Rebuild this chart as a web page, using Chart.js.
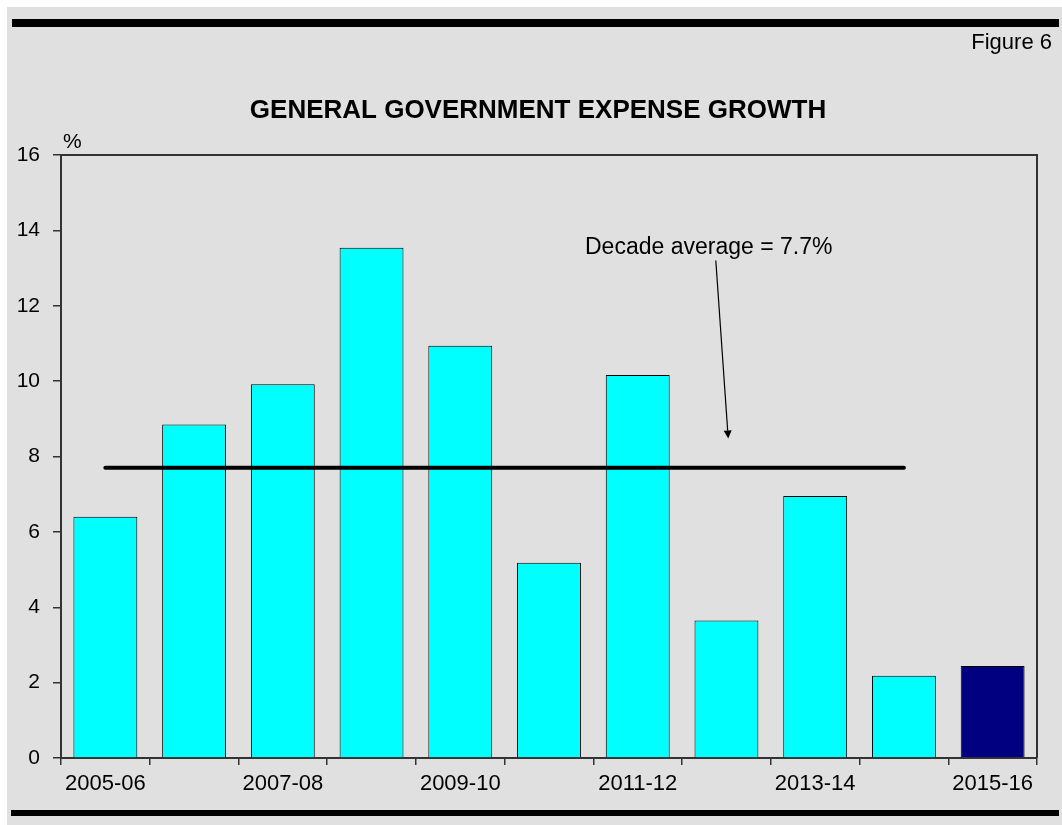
<!DOCTYPE html>
<html>
<head>
<meta charset="utf-8">
<title>General government expense growth</title>
<script src="https://cdn.jsdelivr.net/npm/chart.js@4/dist/chart.umd.min.js"></script>
<style>
  html, body { margin: 0; padding: 0; background: #fff; }
  canvas { display: block; }
</style>
</head>
<body>
<canvas id="expenseChart" width="1062" height="825"></canvas>
<script>
const FONT = "'Liberation Sans', Arial, Helvetica, sans-serif";

// financial years on the x axis
const years = ['2005-06', '2006-07', '2007-08', '2008-09', '2009-10', '2010-11',
  '2011-12', '2012-13', '2013-14', '2014-15', '2015-16'];
// only every second year gets a label
const labelledYears = ['2005-06', '2007-08', '2009-10', '2011-12', '2013-14', '2015-16'];

// expense growth, %
const growth = [6.4, 8.85, 9.92, 13.54, 10.94, 5.18, 10.16, 3.65, 6.95, 2.18, 2.44];

// decade average (2005-06 to 2014-15)
const decadeAverage = [7.7, 7.7, 7.7, 7.7, 7.7, 7.7, 7.7, 7.7, 7.7, 7.7, null];

const yMin = 0;
const yMax = 16;
const yStep = 2;

// callout text and arrow, in axis units (category index, %)
const note = {
  text: 'Decade average = 7.7%',
  at: [6.8, 13.37],
  from: [6.88, 13.2],
  to: [7.02, 8.48]
};

// last year is the budget estimate, shown in navy
const barColours = growth.map((v, i) => i === growth.length - 1 ? '#000080' : '#00ffff');

Chart.defaults.font.family = FONT;
Chart.defaults.color = '#000';

const frame = {
  id: 'frame',
  beforeDraw(chart) {
    const { ctx, width, height, chartArea } = chart;
    ctx.save();
    ctx.fillStyle = '#fff';
    ctx.fillRect(0, 0, width, height);
    ctx.fillStyle = '#e0e0e0';
    ctx.fillRect(7, 7, width - 7, height - 7);

    // heavy rules above and below
    ctx.fillStyle = '#000';
    ctx.fillRect(12, 19, 1047, 8);
    ctx.fillRect(11, 810, 1048, 6);

    ctx.textBaseline = 'alphabetic';
    ctx.font = '22px ' + FONT;
    ctx.textAlign = 'right';
    ctx.fillText('Figure 6', 1052, 49);

    ctx.font = 'bold 26px ' + FONT;
    ctx.textAlign = 'center';
    ctx.fillText('GENERAL GOVERNMENT EXPENSE GROWTH', 538, 118);

    ctx.font = '21px ' + FONT;
    ctx.textAlign = 'left';
    ctx.fillText('%', chartArea.left + 2, chartArea.top - 7);
    ctx.restore();
  },
  afterDraw(chart) {
    const { ctx, chartArea: a, scales } = chart;
    ctx.save();
    // top and right edges of the plot box
    ctx.strokeStyle = '#333';
    ctx.lineWidth = 2;
    ctx.beginPath();
    ctx.moveTo(a.left, a.top);
    ctx.lineTo(a.right, a.top);
    ctx.lineTo(a.right, a.bottom);
    ctx.stroke();

    // callout
    const px = p => [scales.x.getPixelForValue(p[0]), scales.y.getPixelForValue(p[1])];
    const [tx, ty] = px(note.at);
    ctx.fillStyle = '#000';
    ctx.font = '23px ' + FONT;
    ctx.textAlign = 'center';
    ctx.textBaseline = 'alphabetic';
    ctx.fillText(note.text, tx, ty);

    const [x0, y0] = px(note.from);
    const [x1, y1] = px(note.to);
    const ang = Math.atan2(y1 - y0, x1 - x0);
    const head = 8, half = 4;
    const bx = x1 - head * Math.cos(ang), by = y1 - head * Math.sin(ang);
    ctx.strokeStyle = '#000';
    ctx.lineWidth = 1.2;
    ctx.beginPath();
    ctx.moveTo(x0, y0);
    ctx.lineTo(bx, by);
    ctx.stroke();
    ctx.beginPath();
    ctx.moveTo(x1, y1);
    ctx.lineTo(bx + half * Math.sin(ang), by - half * Math.cos(ang));
    ctx.lineTo(bx - half * Math.sin(ang), by + half * Math.cos(ang));
    ctx.closePath();
    ctx.fill();
    ctx.restore();
  }
};

new Chart(document.getElementById('expenseChart'), {
  type: 'bar',
  data: {
    labels: years,
    datasets: [
      {
        type: 'line',
        label: 'Decade average',
        data: decadeAverage,
        borderColor: '#000',
        borderWidth: 4,
        borderCapStyle: 'round',
        pointRadius: 0,
        fill: false,
        order: 0
      },
      {
        label: 'Expense growth',
        data: growth,
        backgroundColor: barColours,
        borderColor: '#000',
        borderWidth: 1,
        barPercentage: 0.72,
        categoryPercentage: 1,
        order: 1
      }
    ]
  },
  options: {
    responsive: false,
    animation: false,
    devicePixelRatio: 1,
    layout: { padding: { left: 7, top: 155, right: 25, bottom: 10 } },
    plugins: {
      legend: { display: false },
      tooltip: { enabled: false },
      title: { display: false }
    },
    scales: {
      x: {
        grid: { offset: true, drawOnChartArea: false, tickLength: 7, color: '#333', lineWidth: 1.5 },
        border: { color: '#333', width: 2 },
        ticks: {
          autoSkip: false,
          maxRotation: 0,
          padding: 6,
          color: '#000',
          font: { size: 22 },
          callback: (v, i) => labelledYears.includes(years[i]) ? years[i] : ''
        },
        afterFit(scale) { scale.height = 57; }
      },
      y: {
        min: yMin,
        max: yMax,
        grid: { drawOnChartArea: false, tickLength: 8, color: '#333', lineWidth: 1.5 },
        border: { color: '#333', width: 2 },
        ticks: { stepSize: yStep, padding: 13, color: '#000', font: { size: 21 } },
        afterFit(scale) { scale.width = 54; }
      }
    }
  },
  plugins: [frame]
});
</script>
</body>
</html>
